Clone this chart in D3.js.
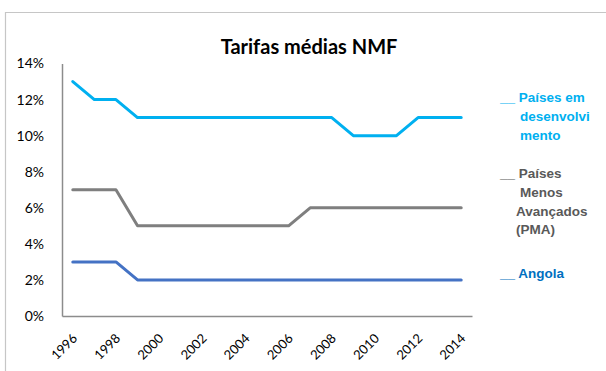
<!DOCTYPE html>
<html>
<head>
<meta charset="utf-8">
<script src="https://cdn.jsdelivr.net/npm/d3@7"></script>
<style>
  html, body { margin: 0; padding: 0; background: #fff; }
  svg { display: block; }
</style>
</head>
<body>
<svg id="chart" width="606" height="371"></svg>
<script>
// Average MFN tariffs, 1996–2014
const years = d3.range(1996, 2015).map(String);
const tickYears = ["1996","1998","2000","2002","2004","2006","2008","2010","2012","2014"];
const yTicks = [0, 0.02, 0.04, 0.06, 0.08, 0.10, 0.12, 0.14];

const emDesenvolvimento = [13,12,12,11,11,11,11,11,11,11,11,11,11,10,10,10,11,11,11];
const menosAvancados    = [7,7,7,5,5,5,5,5,5,5,5,6,6,6,6,6,6,6,6];
const angola            = [3,3,3,2,2,2,2,2,2,2,2,2,2,2,2,2,2,2,2];

const seriesNames = ["Países em desenvolvimento", "Países Menos Avançados (PMA)", "Angola"];
const legendLines = [
  ["__ Países em", "desenvolvi", "mento"],
  ["__ Países", "Menos", "Avançados", "(PMA)"],
  ["__ Angola"]
];
const lineColors = ["#00B0F0", "#7F7F7F", "#4472C4"];
const textColors = ["#00B0F0", "#595959", "#0070C0"];

const svg = d3.select("#chart");
const W = 606, H = 371;
const plot = { left: 62, right: 472, top: 63.5, bottom: 316 };

// outer frame
svg.append("path")
  .attr("d", `M5.5,${H + 2} V12.5 H${W + 2}`)
  .attr("fill", "none")
  .attr("stroke", "#c6c6c6")
  .attr("stroke-width", 1.2);

const x = d3.scaleBand().domain(years).range([plot.left, plot.right]).padding(0);
const y = d3.scaleLinear().domain([0, 0.14]).range([plot.bottom, plot.top]);

// title
svg.append("text")
  .attr("x", 309).attr("y", 54)
  .attr("text-anchor", "middle")
  .attr("font-family", "Lato, 'Open Sans', sans-serif")
  .attr("font-weight", "bold")
  .attr("font-size", 20)
  .attr("fill", "#000")
  .text("Tarifas médias NMF");

// y axis
const yAxis = svg.append("g")
  .attr("transform", `translate(${plot.left},0)`)
  .call(d3.axisLeft(y).tickValues(yTicks).tickSize(0).tickPadding(18).tickFormat(d3.format(".0%")));
yAxis.select(".domain").attr("stroke", "#8c8c8c").attr("stroke-width", 1.5);
yAxis.selectAll("text")
  .attr("font-family", "Lato, sans-serif")
  .attr("font-size", 14)
  .attr("fill", "#000");

// x axis
const xAxis = svg.append("g")
  .attr("transform", `translate(0,${plot.bottom})`)
  .call(d3.axisBottom(x).tickValues(tickYears).tickSize(0).tickPadding(0));
xAxis.select(".domain").attr("stroke", "#8c8c8c").attr("stroke-width", 1.5);
xAxis.selectAll("text")
  .attr("font-family", "Lato, sans-serif")
  .attr("font-size", 13)
  .attr("fill", "#000")
  .attr("text-anchor", "end")
  .attr("dy", "0.35em")
  .attr("transform", "translate(2,20) rotate(-45)");

// series lines
const allSeries = [emDesenvolvimento, menosAvancados, angola];
const line = d3.line()
  .x((d, i) => x(years[i]) + x.bandwidth() / 2)
  .y(d => y(d / 100));

svg.append("g").selectAll("path")
  .data(allSeries)
  .join("path")
  .attr("d", d => line(d))
  .attr("fill", "none")
  .attr("stroke", (d, i) => lineColors[i])
  .attr("stroke-width", 3)
  .attr("stroke-linejoin", "round")
  .attr("stroke-linecap", "round");

// legend
const legendTop = [102, 178, 278];
const legendIndent = [
  [0, 20, 20],
  [0, 20, 16, 16],
  [0]
];
const legend = svg.append("g")
  .attr("font-family", "'Liberation Sans', Arial, sans-serif")
  .attr("font-weight", "bold")
  .attr("font-size", 13.5);
legendLines.forEach((lines, i) => {
  const t = legend.append("text")
    .attr("fill", textColors[i])
    .attr("data-series", seriesNames[i]);
  lines.forEach((s, j) => {
    t.append("tspan")
      .attr("x", 500 + legendIndent[i][j])
      .attr("y", legendTop[i] + j * 18.8)
      .text(s);
  });
});
</script>
</body>
</html>
